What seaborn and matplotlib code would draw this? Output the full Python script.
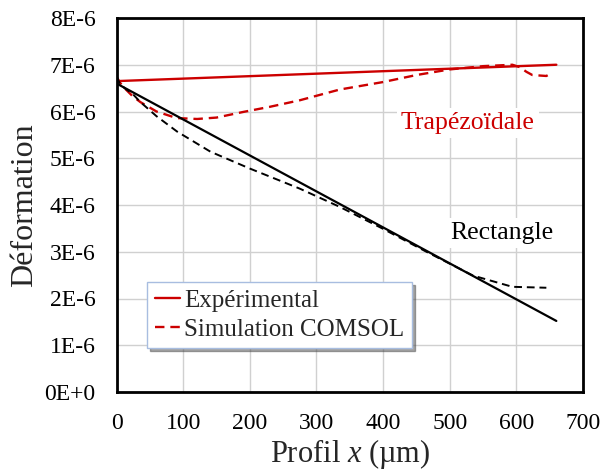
import numpy as np
import pandas as pd
import matplotlib
matplotlib.use("Agg")
import matplotlib.pyplot as plt
import seaborn as sns

# Data (x in µm, deformation)
trap_exp_x = [0, 660]
trap_exp_y = [6.65e-6, 7.0e-6]
rect_exp_x = [0, 660]
rect_exp_y = [6.6e-6, 1.52e-6]

trap_sim_x = [0, 5, 12, 24, 36, 60, 90, 121, 150, 190, 230, 275, 335, 400, 450, 500, 550, 594, 605, 615, 624, 645, 650]
trap_sim_y = [6.75e-6, 6.62e-6, 6.5e-6, 6.33e-6, 6.2e-6, 6.0e-6, 5.86e-6, 5.84e-6, 5.87e-6, 5.99e-6, 6.1e-6, 6.24e-6, 6.47e-6, 6.63e-6, 6.78e-6, 6.9e-6, 6.97e-6, 7.0e-6, 6.95e-6, 6.85e-6, 6.78e-6, 6.76e-6, 6.8e-6]

rect_sim_x = [0, 5, 12, 24, 36, 60, 91, 141, 200, 275, 335, 400, 465, 535, 594, 645]
rect_sim_y = [6.75e-6, 6.6e-6, 6.5e-6, 6.38e-6, 6.2e-6, 5.9e-6, 5.57e-6, 5.14e-6, 4.78e-6, 4.35e-6, 3.96e-6, 3.49e-6, 3.0e-6, 2.49e-6, 2.25e-6, 2.23e-6]

x_ticks = [0, 100, 200, 300, 400, 500, 600, 700]
y_ticks = [0, 1e-6, 2e-6, 3e-6, 4e-6, 5e-6, 6e-6, 7e-6, 8e-6]
y_labels = ["0E+0", "1E-6", "2E-6", "3E-6", "4E-6", "5E-6", "6E-6", "7E-6", "8E-6"]

RED = "#CC0000"
BLACK = "#000000"

sns.set_style("white")
plt.rcParams['font.family'] = ['Liberation Serif', 'DejaVu Serif']
plt.rcParams['mathtext.fontset'] = 'custom'
plt.rcParams['mathtext.it'] = 'Liberation Serif:italic'
plt.rcParams['mathtext.rm'] = 'Liberation Serif'

fig = plt.figure(figsize=(6.02, 4.75), dpi=100)
ax = fig.add_axes([116.5/602, 1-392/475, (583-116.5)/602, (392-18)/475])

sns.lineplot(x=trap_exp_x, y=trap_exp_y, ax=ax, color=RED, lw=1.7, label="Expérimental")
sns.lineplot(x=trap_sim_x, y=trap_sim_y, ax=ax, color=RED, lw=1.7, linestyle=(0, (4, 2.5)), label="Simulation COMSOL")
sns.lineplot(x=rect_exp_x, y=rect_exp_y, ax=ax, color=BLACK, lw=1.6)
sns.lineplot(x=rect_sim_x, y=rect_sim_y, ax=ax, color=BLACK, lw=1.4, linestyle=(0, (4, 2.5)))

ax.set_xlim(0, 700)
ax.set_ylim(0, 8e-6)
ax.set_xticks(x_ticks)
ax.set_xticklabels([str(t) for t in x_ticks], fontsize=17)
ax.set_yticks(y_ticks)
ax.set_yticklabels(y_labels, fontsize=17)
ax.grid(True, color="#d0d0d0", lw=1.0)
ax.set_axisbelow(True)
for s in ax.spines.values():
    s.set_color("black")
    s.set_linewidth(2)
ax.tick_params(axis='both', direction='out', length=6, color="#b0b0b0", width=1, labelcolor="black")
ax.tick_params(axis='y', pad=9)
ax.tick_params(axis='x', pad=9)

ax.set_xlabel("Profil $\\mathit{x}$ (µm)", fontsize=22, labelpad=2)
ax.set_ylabel("Déformation", fontsize=23, labelpad=4)

bbox = dict(facecolor="white", edgecolor="none", pad=3)
ax.text(527, 5.75e-6, "Trapézoïdale", color=RED, fontsize=18.5, ha="center", va="center", bbox=bbox)
ax.text(578, 3.4e-6, "Rectangle", color="black", fontsize=18.5, ha="center", va="center", bbox=bbox)

leg = ax.legend(loc="upper left", bbox_to_anchor=((147-116.5)/(583-116.5), (392-282)/(392-18)),
                fontsize=18, frameon=True, fancybox=False, shadow=True,
                handlelength=1.0, handletextpad=0.2, borderpad=0.3, labelspacing=0.25,
                borderaxespad=0)
leg.get_frame().set_edgecolor("#a8bde0")
leg.get_frame().set_linewidth(1)

fig.savefig("out.png", dpi=100)
